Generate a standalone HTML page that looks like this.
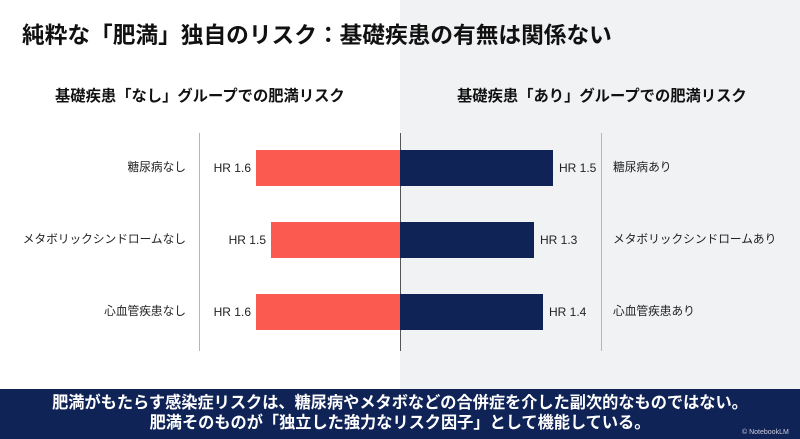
<!DOCTYPE html>
<html><head><meta charset="utf-8"><style>
*{margin:0;padding:0;box-sizing:border-box}
body{width:800px;height:439px;position:relative;overflow:hidden;background:#fff;font-family:"Liberation Sans","Noto Sans CJK JP",sans-serif;color:#1a1a1a}
.abs{position:absolute;white-space:nowrap;line-height:16px}
.rbg{position:absolute;left:400px;top:0;width:400px;height:389px;background:#f1f2f4}
.title{left:22px;top:22px;font-size:22.7px;font-weight:bold;color:#111;line-height:26px}
.sub{top:88px;font-size:15.3px;font-weight:bold;color:#111;line-height:18px}
.vl{position:absolute;width:1px;background:#b5b5b5}
.bar{position:absolute;height:36px}
.l{background:#fa5a50}.r{background:#0f2356}
.lab{font-size:11.7px;color:#222}
.hr{font-size:12px;color:#222}
.ban{position:absolute;left:0;top:389px;width:800px;height:50px;background:#0f2356;color:#fff;font-size:16.2px;font-weight:bold;text-align:center;line-height:20px;padding-top:4px}
</style></head><body>
<div class="rbg"></div>
<div class="abs title">純粋な「肥満」独自のリスク：基礎疾患の有無は関係ない</div>
<div class="abs sub" style="left:55px">基礎疾患「なし」グループでの肥満リスク</div>
<div class="abs sub" style="left:457px">基礎疾患「あり」グループでの肥満リスク</div>
<div class="vl" style="left:199px;top:133px;height:218px"></div>
<div class="vl" style="left:601px;top:133px;height:218px"></div>
<div class="vl" style="left:400px;top:133px;height:218px;background:#555"></div>

<div class="bar l" style="left:256px;top:150px;width:144px"></div>
<div class="bar r" style="left:400px;top:150px;width:153px"></div>
<div class="bar l" style="left:271px;top:222px;width:129px"></div>
<div class="bar r" style="left:400px;top:222px;width:134px"></div>
<div class="bar l" style="left:256px;top:294px;width:144px"></div>
<div class="bar r" style="left:400px;top:294px;width:143px"></div>

<div class="abs lab" style="right:614px;top:160px">糖尿病なし</div>
<div class="abs lab" style="right:614px;top:232px">メタボリックシンドロームなし</div>
<div class="abs lab" style="right:614px;top:304px">心血管疾患なし</div>
<div class="abs hr" style="right:549px;top:160px">HR 1.6</div>
<div class="abs hr" style="right:534px;top:232px">HR 1.5</div>
<div class="abs hr" style="right:549px;top:304px">HR 1.6</div>
<div class="abs hr" style="left:559px;top:160px">HR 1.5</div>
<div class="abs hr" style="left:540px;top:232px">HR 1.3</div>
<div class="abs hr" style="left:549px;top:304px">HR 1.4</div>
<div class="abs lab" style="left:613px;top:160px">糖尿病あり</div>
<div class="abs lab" style="left:613px;top:232px">メタボリックシンドロームあり</div>
<div class="abs lab" style="left:613px;top:304px">心血管疾患あり</div>

<div class="ban">肥満がもたらす感染症リスクは、糖尿病やメタボなどの合併症を介した副次的なものではない。<br>肥満そのものが「独立した強力なリスク因子」として機能している。</div>
<div class="abs" style="left:742px;top:428px;font-size:7px;color:#ccd;line-height:9px">© NotebookLM</div>
</body></html>
